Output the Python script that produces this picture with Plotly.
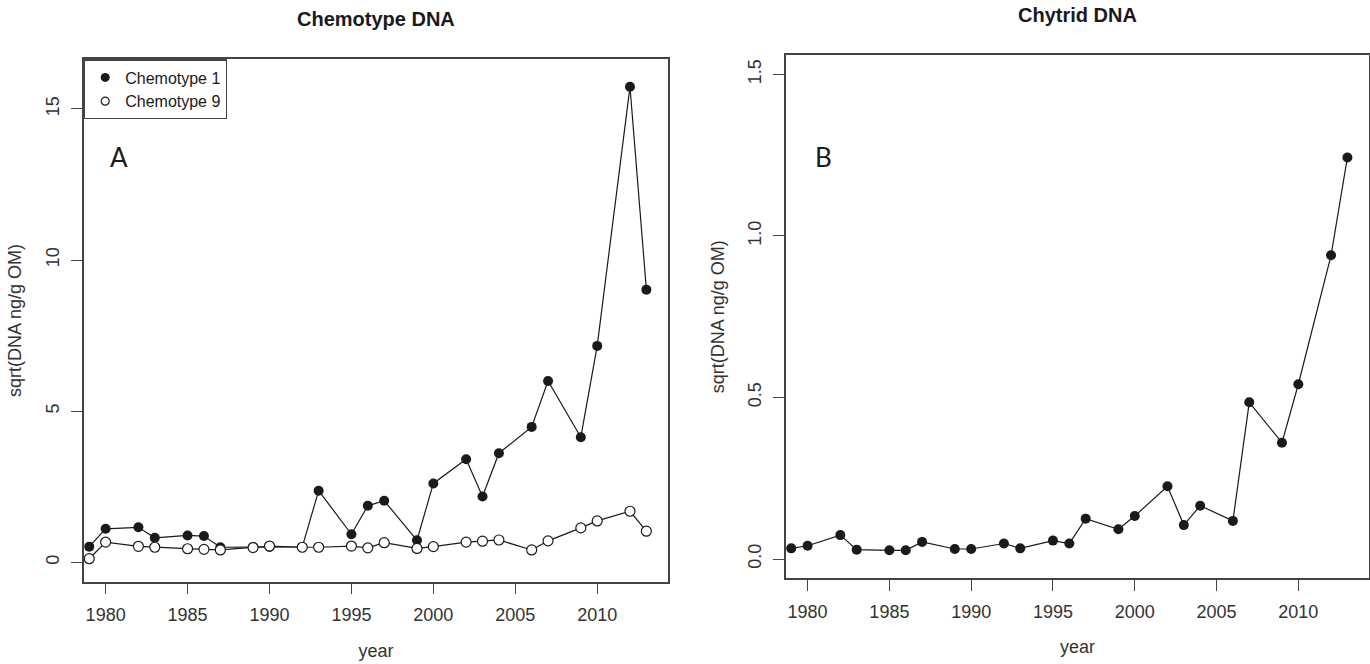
import plotly.graph_objects as go

years = [1979, 1980, 1982, 1983, 1985, 1986, 1987, 1989, 1990, 1992, 1993, 1995, 1996,
         1997, 1999, 2000, 2002, 2003, 2004, 2006, 2007, 2009, 2010, 2012, 2013]
chemotype1 = [0.52, 1.11, 1.16, 0.81, 0.89, 0.87, 0.50, 0.51, 0.51, 0.51, 2.37, 0.93, 1.87,
              2.04, 0.73, 2.61, 3.41, 2.18, 3.61, 4.48, 6.00, 4.14, 7.16, 15.73, 9.02]
chemotype9 = [0.12, 0.67, 0.53, 0.50, 0.45, 0.43, 0.41, 0.49, 0.54, 0.50, 0.50, 0.54, 0.48,
              0.65, 0.46, 0.52, 0.67, 0.70, 0.74, 0.41, 0.71, 1.14, 1.37, 1.69, 1.03]
chytrid = [0.033, 0.041, 0.074, 0.029, 0.027, 0.027, 0.053, 0.031, 0.031, 0.048, 0.033,
           0.057, 0.048, 0.125, 0.092, 0.133, 0.225, 0.105, 0.165, 0.118, 0.485, 0.36,
           0.541, 0.94, 1.243]

x_ticks = [1980, 1985, 1990, 1995, 2000, 2005, 2010]
y_ticks_left = [0, 5, 10, 15]
y_ticks_right = [0.0, 0.5, 1.0, 1.5]
y_ticks_right_text = ["0.0", "0.5", "1.0", "1.5"]

W, H = 1370, 664
FONT = "Liberation Sans, Arial"
INK = "#1a1a1a"
AX = "#444444"

fig = go.Figure()

line_style = dict(color=INK, width=1.2)
fig.add_trace(go.Scatter(x=years, y=chemotype1, mode="lines+markers", line=line_style,
                         marker=dict(size=10, color=INK, line=dict(width=0)),
                         xaxis="x", yaxis="y", showlegend=False))
fig.add_trace(go.Scatter(x=years, y=chemotype9, mode="lines+markers", line=line_style,
                         marker=dict(size=10, color="white", line=dict(width=1.2, color=INK)),
                         xaxis="x", yaxis="y", showlegend=False))
fig.add_trace(go.Scatter(x=years, y=chytrid, mode="lines+markers", line=line_style,
                         marker=dict(size=10, color=INK, line=dict(width=0)),
                         xaxis="x2", yaxis="y2", showlegend=False))
# legend entries (points only, as in the original)
fig.add_trace(go.Scatter(x=[None], y=[None], mode="markers", name="Chemotype 1",
                         marker=dict(size=9, color=INK), xaxis="x", yaxis="y"))
fig.add_trace(go.Scatter(x=[None], y=[None], mode="markers", name="Chemotype 9",
                         marker=dict(size=8, color="white", line=dict(width=1.2, color=INK)),
                         xaxis="x", yaxis="y"))

def px_x(p):
    return p / W

def px_y(p):
    return (H - p) / H

common = dict(showline=True, mirror=True, linecolor=AX, linewidth=1.5, ticks="outside",
              ticklen=11, tickwidth=1.2, tickcolor=AX, showgrid=False, zeroline=False,
              tickfont=dict(family=FONT, size=18, color="#333333"),
              title_font=dict(family=FONT, size=18, color="#333333"))

xr = [1978.68, 2014.32]
fig.update_layout(
    width=W, height=H, margin=dict(l=0, r=0, t=0, b=0),
    paper_bgcolor="white", plot_bgcolor="white",
    xaxis=dict(domain=[px_x(84), px_x(668)], range=xr, tickvals=x_ticks, anchor="y",
               title=dict(text="year", standoff=20), ticklabelstandoff=5, **common),
    yaxis=dict(domain=[px_y(581.7), px_y(59.3)], range=[-0.64, 16.64], tickvals=y_ticks_left,
               tickangle=-90, anchor="x", title=dict(text="sqrt(DNA ng/g OM)", standoff=17),
               ticklabelstandoff=5, **common),
    xaxis2=dict(domain=[px_x(786), px_x(1369)], range=xr, tickvals=x_ticks, anchor="y2",
                title=dict(text="year", standoff=20), ticklabelstandoff=5, **common),
    yaxis2=dict(domain=[px_y(578.4), px_y(55)], range=[-0.06, 1.56], tickvals=y_ticks_right,
                ticktext=y_ticks_right_text, tickangle=-90, anchor="x2",
                title=dict(text="sqrt(DNA ng/g OM)", standoff=16), ticklabelstandoff=5, **common),
    showlegend=True,
    legend=dict(x=px_x(84), y=px_y(59.3), xanchor="left", yanchor="top",
                bordercolor=AX, borderwidth=1.2, bgcolor="white",
                font=dict(family=FONT, size=16, color=INK), itemwidth=30,
                tracegroupgap=0),
)

fig.add_annotation(x=px_x(376), y=px_y(19), xref="paper", yref="paper", text="<b>Chemotype DNA</b>",
                   xanchor="center", yanchor="middle",
                   showarrow=False, font=dict(family=FONT, size=20, color=INK))
fig.add_annotation(x=px_x(1077), y=px_y(15), xref="paper", yref="paper", text="<b>Chytrid DNA</b>",
                   xanchor="center", yanchor="middle",
                   showarrow=False, font=dict(family=FONT, size=20, color=INK))
fig.add_annotation(x=px_x(119), y=px_y(157), xref="paper", yref="paper", text="A",
                   xanchor="center", yanchor="middle",
                   showarrow=False, font=dict(family="Lato", size=26, color=INK))
fig.add_annotation(x=px_x(823), y=px_y(157), xref="paper", yref="paper", text="B",
                   xanchor="center", yanchor="middle",
                   showarrow=False, font=dict(family="Lato", size=26, color=INK))

fig.write_html("out.html", config={"displayModeBar": False},
               post_script="document.body.style.margin='0';document.body.style.overflow='hidden';")
